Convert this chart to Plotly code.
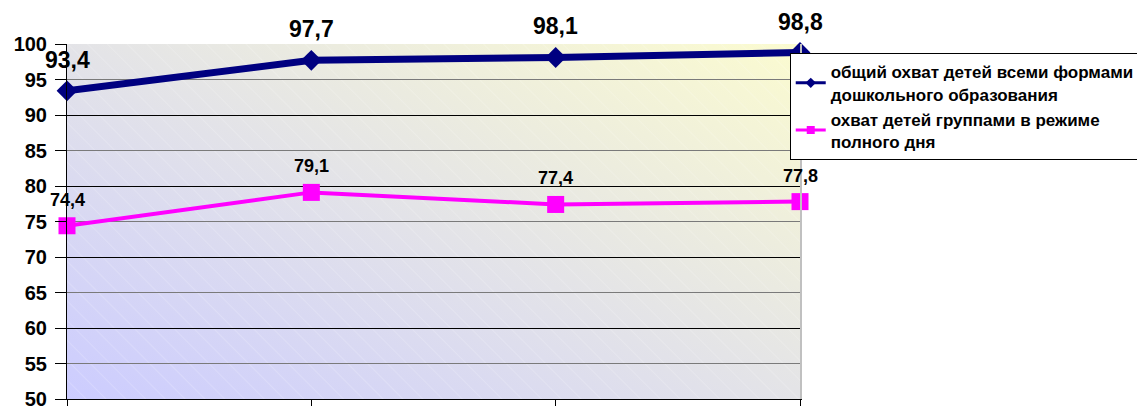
import base64
import plotly.graph_objects as go

categories = ["1", "2", "3", "4"]
total_coverage = [93.4, 97.7, 98.1, 98.8]
full_day_coverage = [74.4, 79.1, 77.4, 77.8]
series_names = [
    "общий охват детей всеми формами<br>дошкольного образования",
    "охват детей группами в режиме<br>полного дня",
]
series_colors = ["#000080", "#ff00ff"]
y_ticks = list(range(50, 101, 5))

def fmt(v):
    return f"{v:.1f}".replace(".", ",")

FONT = "Arial, Liberation Sans, sans-serif"

svg = """<svg xmlns='http://www.w3.org/2000/svg' width='733' height='355' viewBox='0 0 733 355' preserveAspectRatio='none'>
<defs>
<linearGradient id='g' x1='0' y1='1' x2='1' y2='0'>
<stop offset='0' stop-color='#ccccff'/>
<stop offset='1' stop-color='#fbfbd0'/>
</linearGradient>
<pattern id='p' width='14' height='14' patternUnits='userSpaceOnUse' patternTransform='rotate(-45)'>
<line x1='0' y1='0' x2='0' y2='14' stroke='#ffffff' stroke-opacity='0.35' stroke-width='1'/>
</pattern>
</defs>
<rect width='733' height='355' fill='url(#g)'/>
<rect width='733' height='355' fill='url(#p)'/>
</svg>"""
img_src = "data:image/svg+xml;base64," + base64.b64encode(svg.encode()).decode()

fig = go.Figure()
fig.add_trace(go.Scatter(
    x=categories, y=total_coverage, name=series_names[0],
    mode="lines+markers", showlegend=False,
    line=dict(color=series_colors[0], width=7),
    marker=dict(symbol="diamond", size=16, color=series_colors[0]),
    cliponaxis=False,
))
fig.add_trace(go.Scatter(
    x=categories, y=full_day_coverage, name=series_names[1],
    mode="lines+markers", showlegend=False,
    line=dict(color=series_colors[1], width=4),
    marker=dict(symbol="square", size=17, color=series_colors[1]),
    cliponaxis=False,
))
# data labels (x given as category index)
for i, v in enumerate(total_coverage):
    fig.add_annotation(x=i, y=v, text=fmt(v), showarrow=False, yshift=31,
                       yanchor="middle",
                       font=dict(family=FONT, size=23, color="#000000", weight=700))
for i, v in enumerate(full_day_coverage):
    fig.add_annotation(x=i, y=v, text=fmt(v), showarrow=False, yshift=26,
                       yanchor="middle",
                       font=dict(family=FONT, size=18, color="#000000", weight=700))
# legend entries with the small symbols seen in the reference legend
for name, color, sym in zip(series_names, series_colors, ["diamond", "square"]):
    fig.add_trace(go.Scatter(
        x=[None], y=[None], name=name, mode="lines+markers",
        line=dict(color=color, width=3),
        marker=dict(symbol=sym, size=8, color=color),
    ))
# helper invisible trace for secondary axis (black gridlines at tens)
fig.add_trace(go.Scatter(x=categories, y=full_day_coverage, yaxis="y2",
                         mode="markers", marker=dict(opacity=0),
                         showlegend=False, hoverinfo="skip"))

fig.update_layout(
    width=1145, height=406,
    margin=dict(l=59, r=353, t=36, b=15, autoexpand=False),
    paper_bgcolor="white",
    plot_bgcolor="rgba(0,0,0,0)",
    font=dict(family=FONT, color="#000000"),
    images=[dict(source=img_src, xref="paper", yref="paper", x=0, y=1,
                 sizex=1, sizey=1, sizing="stretch", xanchor="left",
                 yanchor="top", layer="below")],
    xaxis=dict(type="category", range=[0, 3], showgrid=False,
               showticklabels=False, ticks="outside", ticklen=8,
               tickcolor="#000000", showline=True, linecolor="#000000",
               linewidth=1, zeroline=False),
    yaxis=dict(range=[50, 100], tickvals=y_ticks, showgrid=True,
               gridcolor="#7a7a7a", gridwidth=1, ticks="outside",
               ticklen=11, tickcolor="#000000", showline=True,
               linecolor="#000000", linewidth=1, zeroline=False,
               ticklabelstandoff=4,
               tickfont=dict(family=FONT, size=20, color="#000000", weight=700)),
    yaxis2=dict(range=[50, 100], overlaying="y", side="right", dtick=10,
                tick0=50, showgrid=True, gridcolor="#000000", gridwidth=1,
                showticklabels=False, ticks="", showline=True,
                linecolor="#c0c0c0", linewidth=2, zeroline=False),
    legend=dict(x=0.986, y=0.974, xanchor="left", yanchor="top",
                bgcolor="white", bordercolor="#000000", borderwidth=1,
                font=dict(family=FONT, size=17, color="#000000", weight=700),
                itemwidth=30, tracegroupgap=2),
    showlegend=True,
)

fig.write_html("out.html")
